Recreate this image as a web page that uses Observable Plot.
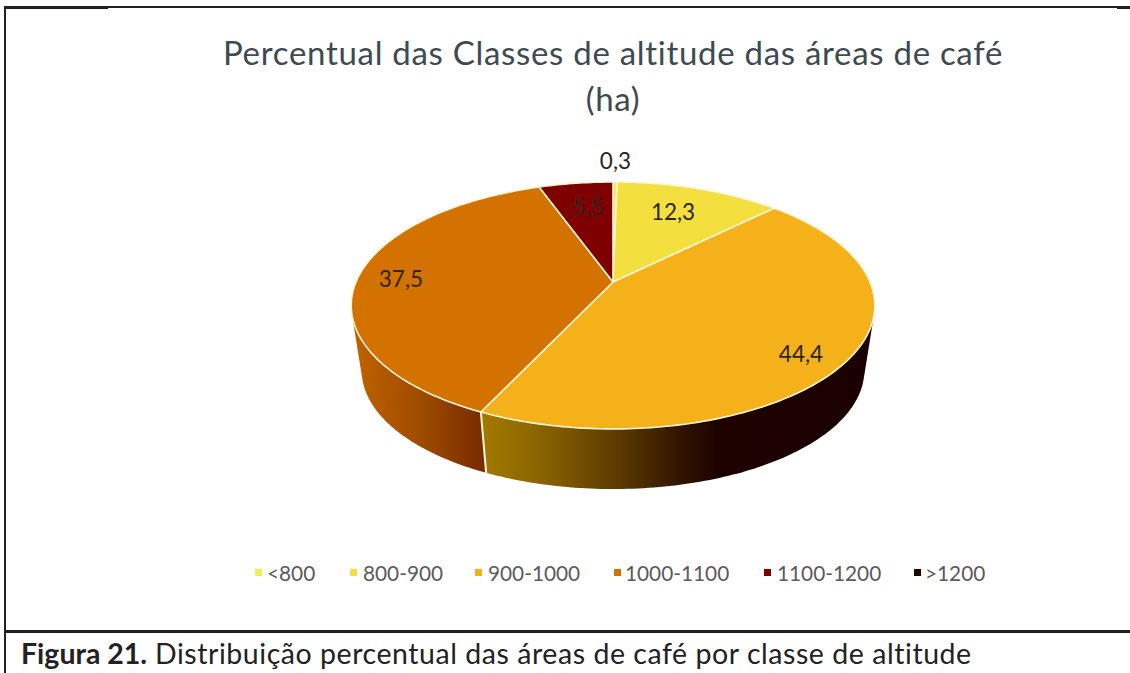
<!DOCTYPE html>
<html lang="pt">
<head>
<meta charset="utf-8">
<script src="https://cdn.jsdelivr.net/npm/d3@7"></script>
<script src="https://cdn.jsdelivr.net/npm/@observablehq/plot@0.6"></script>
<style>
html,body{margin:0;padding:0;background:#fff;}
#page{position:relative;width:1130px;height:673px;overflow:hidden;font-family:Lato,sans-serif;background:#fff;}
.rule{position:absolute;background:#231f20;}
#title{position:absolute;left:0;width:1226px;top:29px;text-align:center;font-size:33px;line-height:46px;color:#3d4a50;letter-spacing:.7px;}
#chart{position:absolute;left:0;top:130px;}
#chart svg{overflow:visible;display:block;}
#legend{position:absolute;left:0;top:559px;height:28px;width:1130px;font-size:20.8px;line-height:28px;color:#5a5a5a;}
#legend span.item{position:absolute;white-space:nowrap;}
#legend i{position:absolute;width:7px;height:7px;top:10px;}
#caption{position:absolute;left:21px;top:634px;font-size:28.5px;line-height:38px;color:#222;white-space:nowrap;}
#caption span{letter-spacing:.55px;}
</style>
</head>
<body>
<div id="page">
  <div class="rule" style="left:4px;top:6px;width:1126px;height:1.5px"></div>
  <div class="rule" style="left:4px;top:6px;width:104px;height:2.5px"></div>
  <div class="rule" style="left:1117px;top:6px;width:13px;height:2.5px"></div>
  <div class="rule" style="left:4px;top:6px;width:2px;height:667px"></div>
  <div class="rule" style="left:4px;top:630px;width:1126px;height:2.5px"></div>
  <div id="title">Percentual das Classes de altitude das áreas de café<br>(ha)</div>
  <div id="chart"></div>
  <div id="legend"></div>
  <div id="caption"><b>Figura 21.</b><span> Distribuição percentual das áreas de café por classe de altitude</span></div>
</div>
<script>
// Data
const classes = ["<800", "800-900", "900-1000", "1000-1100", "1100-1200", ">1200"];
const values = [0.3, 12.3, 44.4, 37.5, 5.5, 0];
const labels = ["0,3", "12,3", "44,4", "37,5", "5,5", ""];
const colors = ["#eeee55", "#f3df3e", "#f4b11a", "#d47200", "#7f0000", "#1c0000"];
const labelRadius = [1.25, 0.703, 0.855, 0.828, 0.714, 0];
const labelNudge = [0, -1.3, 4.7, -1.5, 1, 0];
const legendIcon = [255, 350, 475, 614, 764, 914];
const legendText = [267, 363, 488, 625, 777, 925];

// Pie in perspective: a unit disc seen from above, far edge shrunk
const persp = 0.19;
const baseScale = 0.96, baseDrop = 0.5546;
const project = (deg, r = 1) => {
  const a = deg * Math.PI / 180, s = r * Math.sin(a), c = r * Math.cos(a), w = 1 + persp * c;
  return [s / w, c / w];
};
const total = d3.sum(values);
let acc = 0;
const slices = classes.map((cls, i) => {
  const start = acc / total * 360; acc += values[i];
  return {cls, i, start, end: acc / total * 360, label: labels[i]};
}).filter(d => d.end > d.start);
const arc = (a0, a1) => {
  const n = Math.max(2, Math.ceil(Math.abs(a1 - a0)));
  return d3.range(n + 1).map(k => a0 + (a1 - a0) * k / n);
};
const topFace = slices.flatMap(d => [
  {cls: d.cls, x: 0, y: 0},
  ...arc(d.start, d.end).map(a => { const [x, y] = project(a); return {cls: d.cls, x, y}; })
]);
// Wall outline: convex hull of the top rim and the base rim of a slice
const wall = (a0, a1) => d3.polygonHull(arc(a0, a1).flatMap(a => {
  const [x, y] = project(a);
  return [[x, y], [x * baseScale, y * baseScale - baseDrop]];
})).map(([x, y]) => ({x, y}));
const s900 = slices.find(d => d.cls === "900-1000");
const s1000 = slices.find(d => d.cls === "1000-1100");
const seamAngle = s900.end;
const seam = (() => { const [x, y] = project(seamAngle); return [{x, y}, {x: x * baseScale, y: y * baseScale - baseDrop}]; })();
const labelRows = slices.filter(d => d.label).map(d => {
  const [x, y] = project((d.start + d.end) / 2 + labelNudge[d.i], labelRadius[d.i]);
  return {x, y, text: d.label};
});

const gradient = (id, stops) => {
  const g = d3.create("svg:linearGradient").attr("id", id);
  stops.forEach(([o, c]) => g.append("stop").attr("offset", o).attr("stop-color", c));
  return g.node();
};
const defs = () => {
  const d = d3.create("svg:defs");
  d.append(() => gradient("wall900", [[0, "#a27a00"], [0.15, "#8a6400"], [0.35, "#5c3a00"], [0.5, "#321600"], [0.6, "#1e0200"], [1, "#1a0000"]]));
  d.append(() => gradient("wall1000", [[0, "#c06400"], [0.5, "#a04c00"], [1, "#752a00"]]));
  return d.node();
};

const plot = Plot.plot({
  width: 1130, height: 400,
  marginTop: 0, marginRight: 0, marginBottom: 0, marginLeft: 0,
  x: {domain: [-1, 1], range: [355.5, 869.5], axis: null},
  y: {domain: [1, -1], range: [32.5, 270.5], axis: null},
  color: {type: "ordinal", domain: classes, range: colors},
  style: {background: "transparent", overflow: "visible"},
  marks: [
    defs,
    Plot.line(wall(s900.start, s900.end), {x: "x", y: "y", fill: "url(#wall900)", stroke: "none", curve: "linear-closed"}),
    Plot.line(wall(s1000.start, s1000.start + 85), {x: "x", y: "y", fill: "url(#wall1000)", stroke: "none", curve: "linear-closed"}),
    Plot.line(seam, {x: "x", y: "y", stroke: "#fff6d6", strokeWidth: 2}),
    Plot.line(topFace, {x: "x", y: "y", z: "cls", fill: "cls", stroke: "#fff6d6", strokeWidth: 1.6, curve: "linear-closed"}),
    Plot.text(labelRows, {x: "x", y: "y", text: "text", fontSize: 22.5, fontFamily: "Lato, sans-serif", fill: "#2b2622"})
  ]
});
document.getElementById("chart").append(plot);

const color = plot.scale("color");
const legend = document.getElementById("legend");
classes.forEach((c, i) => {
  const sw = document.createElement("i");
  sw.style.left = legendIcon[i] + "px";
  sw.style.background = color.apply(c);
  legend.append(sw);
  const t = document.createElement("span");
  t.className = "item";
  t.style.left = legendText[i] + "px";
  t.textContent = c;
  legend.append(t);
});
</script>
</body>
</html>
